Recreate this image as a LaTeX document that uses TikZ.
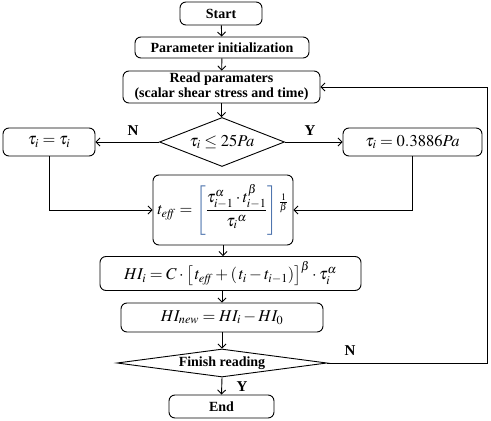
\documentclass[tikz,border=0pt]{standalone}
\usepackage{amsmath}
\usepackage{mathptmx}
\usepackage{fontspec}
\setmainfont{Liberation Serif}
\usetikzlibrary{shapes.geometric}
\usetikzlibrary{arrows.meta}
\definecolor{brblue}{RGB}{70,110,170}

\begin{document}
\begin{tikzpicture}[x=1pt,y=1pt,yscale=-1,xscale=1,
  line width=0.9pt,
  box/.style={draw,rounded corners=6pt,inner sep=0pt,align=center},
  txt/.style={font=\fontsize{14}{16}\selectfont\bfseries},
  mth/.style={font=\fontsize{16.5}{18}\selectfont},
  decide/.style={draw,diamond,inner sep=0pt},
  lbl/.style={font=\fontsize{15}{17}\selectfont\bfseries},
  arr/.style={-{Straight Barb[length=4pt,width=8pt]}}]
\useasboundingbox (0,0) rectangle (491,421);

% Process boxes
\node [box,txt,minimum width=82,minimum height=23] (start) at (221,13.5) {Start};
\node [box,txt,minimum width=174,minimum height=21] (init) at (222,47.5) {Parameter initialization};
\node [box,txt,minimum width=197,minimum height=32,font=\fontsize{14}{15}\selectfont\bfseries] (read) at (221.5,87) {Read paramaters\\(scalar shear stress and time)};
\node [decide,mth,aspect=2.55,minimum width=125,minimum height=49] (cond) at (222,142) {$\tau_i \leq 25Pa$};
\node [box,mth,minimum width=92,minimum height=28] (keep) at (49,142) {$\tau_i = \tau_i$};
\node [box,mth,minimum width=139,minimum height=28] (set) at (412.5,142) {$\tau_i = 0.3886Pa$};
\node [box,mth,minimum width=140,minimum height=70] (teff) at (223,210)
  {$t_{\mathit{eff}} = \color{brblue}\left[\color{black}\dfrac{\tau_{i-1}^{\alpha}\cdot t_{i-1}^{\beta}}{\tau_i{}^{\alpha}}\color{brblue}\right]^{\color{black}\frac{1}{\beta}}$};
\node [box,mth,minimum width=261,minimum height=34] (hi) at (230.5,273.5)
  {$HI_i = C\cdot\left[\,t_{\mathit{eff}} + (\,t_i - t_{i-1})\right]^{\beta}\cdot\tau_i^{\alpha}$};
\node [box,mth,minimum width=202,minimum height=29] (hinew) at (222,317.5) {$HI_{\mathit{new}} = HI_i - HI_0$};
\node [decide,txt,aspect=7.5,minimum width=210,minimum height=28] (finish) at (222,363) {Finish reading};
\node [box,txt,minimum width=105,minimum height=23] (end) at (221.5,406.5) {End};
\coordinate (loop) at (487,87);

% Connectors
\draw [arr] (start) -- (init);
\draw [arr] (init) -- (read);
\draw [arr] (read.south) -- (read.south |- cond.north);
\draw [arr] (cond.west) -- (keep.east);
\draw [arr] (cond.east) -- (set.west);
\draw [arr] (keep.south) |- (teff.west);
\draw [arr] (set.south) |- (teff.east);
\draw [arr] (teff.south) -- (teff.south |- hi.north);
\draw [arr] (hinew.north |- hi.south) -- (hinew.north);
\draw [arr] (hinew.south) -- (finish.north);
\draw [arr] (finish.south) -- (end.north);
\draw [arr] (finish.east) -| (loop) -- (read.east);

% Branch labels
\node [lbl] (lN) at (133,131) {N};
\node [lbl] (lY) at (310,131) {Y};
\node [lbl] (lN2) at (350,351) {N};
\node [lbl] (lY2) at (242,387) {Y};

\end{tikzpicture}
\end{document}
